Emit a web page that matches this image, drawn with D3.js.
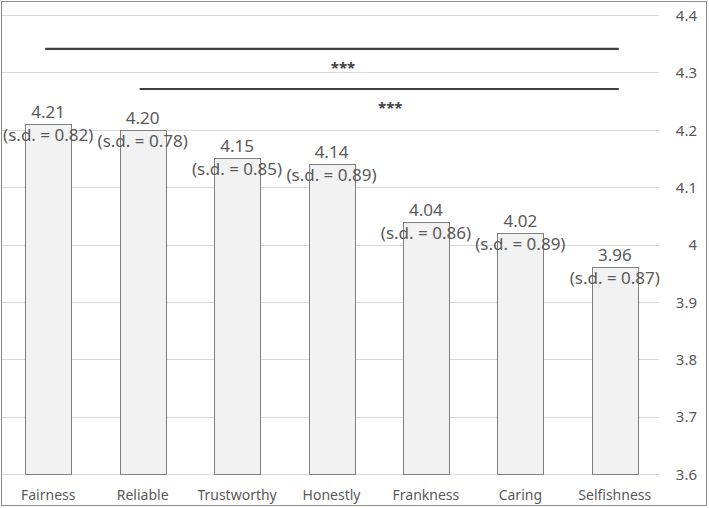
<!DOCTYPE html>
<html>
<head>
<meta charset="utf-8">
<script src="https://cdn.jsdelivr.net/npm/d3@7"></script>
<style>
  body { margin: 0; background: #fff; }
  svg text { font-family: "Noto Sans", sans-serif; fill: #595959; }
</style>
</head>
<body>
<div id="chart"></div>
<script>

// data
var categories = ['Fairness','Reliable','Trustworthy','Honestly','Frankness','Caring','Selfishness'];
var means = [4.21, 4.20, 4.15, 4.14, 4.04, 4.02, 3.96];
var sds = [0.82, 0.78, 0.85, 0.89, 0.86, 0.89, 0.87];
var yTicks = [3.6, 3.7, 3.8, 3.9, 4, 4.1, 4.2, 4.3, 4.4];
// significance brackets: from, to, level (in y units)
var sigFrom = ['Fairness','Reliable'];
var sigTo = ['Selfishness','Selfishness'];
var sigLevel = [4.341, 4.271];
var sigLabel = ['***','***'];

// svg properties
var W = 709, H = 508;
var margin = { top: 15, right: 47, bottom: 34, left: 1 };

var svg = d3.select('#chart').append('svg')
	.attr('width', W).attr('height', H);

// outer frame
svg.append('rect')
	.attr('x', 1.5).attr('y', 1.5)
	.attr('width', W - 4).attr('height', H - 4)
	.attr('fill', 'none').attr('stroke', '#8c8c8c').attr('stroke-width', 1);

//************ SCALES ************

var xScale = d3.scaleBand()
	.domain(categories)
	.range([margin.left, W - margin.right])
	.paddingInner(0.513)
	.paddingOuter(0.2565);

var yScale = d3.scaleLinear()
	.domain([3.6, 4.4])
	.range([H - margin.bottom, margin.top]);

//************ GRID + AXIS ************

svg.append('g').selectAll('line')
	.data(yTicks).enter()
	.append('line')
	.attr('x1', 2).attr('x2', 659)
	.attr('y1', function(d) { return Math.round(yScale(d)) + 0.5; })
	.attr('y2', function(d) { return Math.round(yScale(d)) + 0.5; })
	.attr('stroke', '#d9d9d9').attr('stroke-width', 1);

var yAxis = d3.axisRight(yScale)
	.tickValues(yTicks)
	.tickSize(0)
	.tickFormat(function(d) { return d3.format('')(+d.toFixed(1)); });

var gy = svg.append('g')
	.attr('transform', 'translate(697,0)')
	.call(yAxis);
gy.select('.domain').remove();
gy.selectAll('text')
	.attr('x', 0).attr('dy', '0.35em')
	.attr('text-anchor', 'end')
	.style('font-size', '15px');

//************ BARS ************

svg.append('g').selectAll('rect')
	.data(means).enter()
	.append('rect')
	.attr('x', function(d, i) { return Math.round(xScale(categories[i])) + 0.5; })
	.attr('y', function(d) { return Math.round(yScale(d)) + 0.5; })
	.attr('width', Math.round(xScale.bandwidth()))
	.attr('height', function(d) { return Math.round(yScale(3.6)) - Math.round(yScale(d)); })
	.attr('fill', '#f2f2f2')
	.attr('stroke', '#808080')
	.attr('stroke-width', 1);

// value labels
var labels = svg.append('g');
labels.selectAll('text.val')
	.data(means).enter()
	.append('text')
	.attr('class', 'val')
	.attr('x', function(d, i) { return xScale(categories[i]) + xScale.bandwidth() / 2; })
	.attr('y', function(d) { return yScale(d) - 6; })
	.attr('text-anchor', 'middle')
	.style('font-size', '17px')
	.text(function(d) { return d.toFixed(2); });

labels.selectAll('text.sd')
	.data(sds).enter()
	.append('text')
	.attr('class', 'sd')
	.attr('x', function(d, i) { return xScale(categories[i]) + xScale.bandwidth() / 2; })
	.attr('y', function(d, i) { return yScale(means[i]) + 17; })
	.attr('text-anchor', 'middle')
	.style('font-size', '17px')
	.text(function(d) { return '(s.d. = ' + d.toFixed(2) + ')'; });

// category labels
svg.append('g').selectAll('text')
	.data(categories).enter()
	.append('text')
	.attr('x', function(d) { return xScale(d) + xScale.bandwidth() / 2; })
	.attr('y', H - 8)
	.attr('text-anchor', 'middle')
	.style('font-size', '14px')
	.text(function(d) { return d; });

//************ SIGNIFICANCE ************

var sig = svg.append('g');
sigLevel.forEach(function(v, i) {
	var x1 = xScale(sigFrom[i]) + xScale.bandwidth() / 2 - 3;
	var x2 = xScale(sigTo[i]) + xScale.bandwidth() / 2 + 4;
	sig.append('line')
		.attr('x1', x1).attr('x2', x2)
		.attr('y1', yScale(v)).attr('y2', yScale(v))
		.attr('stroke', '#404040').attr('stroke-width', 2.2);
	sig.append('text')
		.attr('x', (x1 + x2) / 2 + 11)
		.attr('y', yScale(v) + 24)
		.attr('text-anchor', 'middle')
		.style('font-size', '15px')
		.style('font-weight', 'bold')
		.style('fill', '#404040')
		.text(sigLabel[i]);
});

</script>
</body>
</html>
